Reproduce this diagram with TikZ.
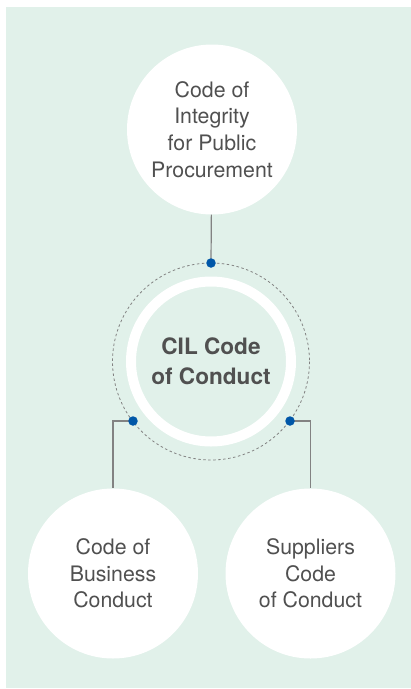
\documentclass[tikz,border=0pt]{standalone}
\usepackage{fontspec}
\setmainfont{TeX Gyre Heros}
\usetikzlibrary{positioning}
\definecolor{bggreen}{RGB}{225,241,234}
\definecolor{txtgray}{RGB}{80,80,80}
\definecolor{linegray}{RGB}{130,130,130}
\definecolor{dotblue}{RGB}{0,87,168}
\tikzset{
  bubble/.style={circle, fill=white, minimum size=170pt, inner sep=0pt,
    align=center, text=txtgray, font=\fontsize{21.3}{26.7}\selectfont},
  ring/.style={circle, draw=white, line width=10pt, minimum size=160pt,
    inner sep=0pt, align=center, text=txtgray,
    font=\fontsize{22.6}{29.5}\selectfont\bfseries},
  link/.style={draw=linegray, line width=1.2pt},
  joint/.style={circle, fill=dotblue, minimum size=9.5pt, inner sep=0pt},
}
\begin{document}
\begin{tikzpicture}[x=1pt, y=-1pt]
  % Rahmen
  \useasboundingbox (0,0) rectangle (411,689);
  \fill[bggreen] (6,7) rectangle (411,688);
  % Kreise
  \node[bubble] (integrity) at (212,129.5) {Code of\\Integrity\\for Public\\Procurement};
  \node[ring] (cil) at (211,361.5) {CIL Code\\of Conduct};
  \node[bubble] (business) at (113,573.5) {Code of\\Business\\Conduct};
  \node[bubble] (suppliers) at (310.5,573.5) {Suppliers\\Code\\of Conduct};
  % gestrichelter Kreis
  \draw[linegray, line width=0.8pt, dash pattern=on 2.5pt off 2.5pt] (cil.center) circle (98.5);
  % Anschlusspunkte
  \coordinate (dotT) at (211,263);
  \coordinate (dotL) at (133,421);
  \coordinate (dotR) at (290,421);
  % Verbindungen
  \draw[link] (integrity) -- (dotT);
  \draw[link] (dotL) -| (business);
  \draw[link] (dotR) -| (suppliers);
  \node[joint] at (dotT) {};
  \node[joint] at (dotL) {};
  \node[joint] at (dotR) {};
\end{tikzpicture}
\end{document}
